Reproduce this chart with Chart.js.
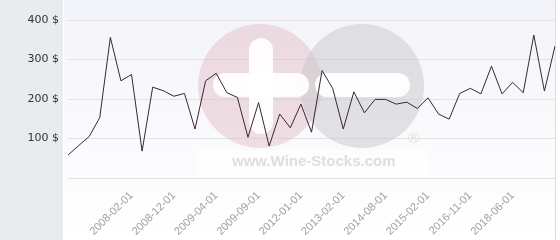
<!DOCTYPE html>
<html>
<head>
<meta charset="utf-8">
<script src="https://cdn.jsdelivr.net/npm/chart.js@4/dist/chart.umd.min.js"></script>
<style>
  html, body { margin: 0; padding: 0; background: #fff; }
  #wrap { width: 560px; height: 240px; }
</style>
</head>
<body>
<div id="wrap"><canvas id="priceChart" width="560" height="240"></canvas></div>
<script>
// one label per point, only the ones shown on the axis are known
const dates = [
  '', '', '', '', '', '', '2008-02-01', '', '', '',
  '2008-12-01', '', '', '', '2009-04-01', '', '', '', '2009-09-01', '',
  '', '', '2012-01-01', '', '', '', '2013-02-01', '', '', '',
  '2014-08-01', '', '', '', '2015-02-01', '', '', '', '2016-11-01', '',
  '', '', '2018-06-01', '', '', '', ''
];
const prices = [
  58, 82, 105, 153, 356, 246, 262, 68, 230, 221,
  207, 214, 124, 246, 265, 216, 204, 103, 191, 81,
  162, 127, 187, 116, 272, 227, 124, 218, 165, 199,
  199, 187, 192, 176, 203, 162, 149, 214, 227, 213,
  283, 213, 242, 216, 362, 220, 334
];
const yTicks = [0, 100, 200, 300, 400];

const bgPlugin = {
  id: 'bg',
  beforeDraw(chart) {
    const ctx = chart.ctx;
    const area = chart.chartArea;
    ctx.save();
    ctx.fillStyle = '#ffffff';
    ctx.fillRect(0, 0, chart.width, chart.height);
    ctx.fillStyle = '#e8ecef';
    ctx.fillRect(0, 0, area.left - 5, chart.height);
    const g = ctx.createLinearGradient(0, 0, 0, chart.height);
    g.addColorStop(0, '#f3f4f9');
    g.addColorStop(1, '#ffffff');
    ctx.fillStyle = g;
    ctx.fillRect(area.left - 4, 0, area.right - area.left + 4, chart.height);
    ctx.strokeStyle = '#dedede';
    ctx.lineWidth = 1;
    ctx.beginPath();
    ctx.moveTo(Math.round(area.right) + 0.5, 0);
    ctx.lineTo(Math.round(area.right) + 0.5, chart.height);
    ctx.stroke();
    ctx.restore();
  }
};

// faint logo behind the line
const watermark = {
  id: 'watermark',
  beforeDatasetsDraw(chart) {
    const ctx = chart.ctx;
    ctx.save();
    ctx.fillStyle = 'rgba(255,255,255,0.6)';
    ctx.fillRect(197, 150, 232, 26);

    ctx.fillStyle = 'rgba(222,180,190,0.42)';
    ctx.beginPath(); ctx.arc(260, 86, 62, 0, Math.PI * 2); ctx.fill();
    ctx.fillStyle = 'rgba(200,200,203,0.5)';
    ctx.beginPath(); ctx.arc(362, 86, 62, 0, Math.PI * 2); ctx.fill();

    ctx.fillStyle = 'rgba(255,255,255,0.92)';
    const bar = (x, y, w, h) => {
      ctx.beginPath();
      ctx.roundRect(x, y, w, h, Math.min(w, h) / 2);
      ctx.fill();
    };
    bar(213, 73, 96, 24);
    bar(249, 38, 24, 96);
    bar(315, 73, 95, 24);

    ctx.fillStyle = '#dedede';
    ctx.font = 'bold 15px "Liberation Sans", Arial, sans-serif';
    ctx.textBaseline = 'alphabetic';
    ctx.textAlign = 'left';
    ctx.fillText('www.Wine-Stocks.com', 232, 166);
    ctx.font = '15px "Liberation Sans", Arial, sans-serif';
    ctx.fillText('\u00AE', 408, 143);
    ctx.restore();
  }
};

new Chart(document.getElementById('priceChart'), {
  type: 'line',
  data: {
    labels: dates,
    datasets: [{
      data: prices,
      borderColor: '#3b2534',
      borderWidth: 1,
      pointRadius: 0,
      tension: 0,
      fill: false
    }]
  },
  options: {
    responsive: false,
    animation: false,
    layout: { padding: { top: 20, right: 5, left: 0, bottom: 0 } },
    plugins: { legend: { display: false }, tooltip: { enabled: false } },
    scales: {
      x: {
        grid: { display: false },
        border: { display: false },
        afterFit: s => {
          s.height = 62;
          s.paddingLeft = 0;
          s.paddingRight = 0;
        },
        ticks: {
          autoSkip: false,
          minRotation: 45,
          maxRotation: 45,
          padding: 3,
          color: '#a0a0a0',
          font: { family: '"Liberation Sans", Arial, sans-serif', size: 11 }
        }
      },
      y: {
        min: 0,
        max: 400,
        afterBuildTicks: s => { s.ticks = yTicks.map(v => ({ value: v })); },
        afterFit: s => { s.width = 68; },
        grid: { color: '#e2e2e4', drawTicks: false },
        border: { display: false },
        ticks: {
          padding: 9,
          color: '#333333',
          font: { family: '"DejaVu Sans", sans-serif', size: 11 },
          callback: v => v === 0 ? '' : v + ' $'
        }
      }
    }
  },
  plugins: [bgPlugin, watermark]
});
</script>
</body>
</html>
